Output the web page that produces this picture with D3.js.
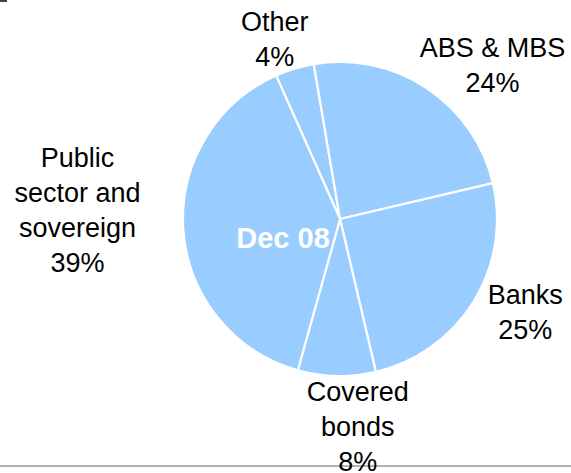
<!DOCTYPE html>
<html>
<head>
<meta charset="utf-8">
<script src="https://cdn.jsdelivr.net/npm/d3@7"></script>
<style>
  body { margin: 0; background: #fff; }
  svg { display: block; }
  text { font-family: "Liberation Sans", Arial, sans-serif; }
</style>
</head>
<body>
<div id="chart"></div>
<script>
// data, clockwise from the top-left
var categories = ["Other", "ABS & MBS", "Banks", "Covered bonds", "Public sector and sovereign"];
var shares = [4, 24, 25, 8, 39];
var labelLines = [["Other"], ["ABS & MBS"], ["Banks"], ["Covered", "bonds"], ["Public", "sector and", "sovereign"]];
var centreLabel = "Dec 08";

var width = 571, height = 473;
var cx = 340, cy = 219, radius = 157;
var lineGap = 35;

// hand nudges so the labels sit where the original put them
var nudge = {
    "Other": [-6, 16],
    "ABS & MBS": [39, 17],
    "Banks": [11, -15],
    "Covered bonds": [22, 3],
    "Public sector and sovereign": [-58, -24]
};

var data = categories.map(function (c, i) {
    return {name: c, value: shares[i], lines: labelLines[i].concat([shares[i] + "%"])};
});

var svg = d3.select("#chart").append("svg")
    .attr("width", width)
    .attr("height", height);

// small leftover mark in the corner and the rule along the bottom
svg.append("rect").attr("x", 0).attr("y", 0).attr("width", 7).attr("height", 2).attr("fill", "#444");
svg.append("line")
    .attr("x1", 0).attr("x2", width)
    .attr("y1", 466).attr("y2", 466)
    .attr("stroke", "#999").attr("stroke-width", 1.5);

var start = -24 * Math.PI / 180;
var pie = d3.pie()
    .sort(null)
    .value(d => d.value)
    .startAngle(start)
    .endAngle(start + 2 * Math.PI);

var arc = d3.arc().innerRadius(0).outerRadius(radius);
var labelArc = d3.arc().innerRadius(205).outerRadius(205);

var g = svg.append("g").attr("transform", "translate(" + cx + "," + cy + ")");
var arcs = pie(data);

g.selectAll("path.slice")
    .data(arcs)
    .enter().append("path")
    .attr("class", "slice")
    .attr("d", arc)
    .attr("fill", "#99ccff")
    .attr("stroke", "#fff")
    .attr("stroke-width", 2.2)
    .attr("stroke-linejoin", "round");

var labels = g.selectAll("text.lbl")
    .data(arcs)
    .enter().append("text")
    .attr("class", "lbl")
    .attr("text-anchor", "middle")
    .attr("font-size", 27)
    .attr("fill", "#000")
    .attr("transform", function (d) {
        var c = labelArc.centroid(d);
        var n = nudge[d.data.name];
        return "translate(" + (c[0] + n[0]) + "," + (c[1] + n[1]) + ")";
    });

labels.each(function (d) {
    var t = d3.select(this);
    var n = d.data.lines.length;
    d.data.lines.forEach(function (line, i) {
        t.append("tspan")
            .attr("x", 0)
            .attr("y", (i - (n - 1) / 2) * lineGap)
            .attr("dy", "0.35em")
            .text(line);
    });
});

g.append("text")
    .attr("x", -57)
    .attr("y", 29)
    .attr("text-anchor", "middle")
    .attr("font-size", 29)
    .attr("font-weight", "bold")
    .attr("fill", "#fff")
    .text(centreLabel);
</script>
</body>
</html>
